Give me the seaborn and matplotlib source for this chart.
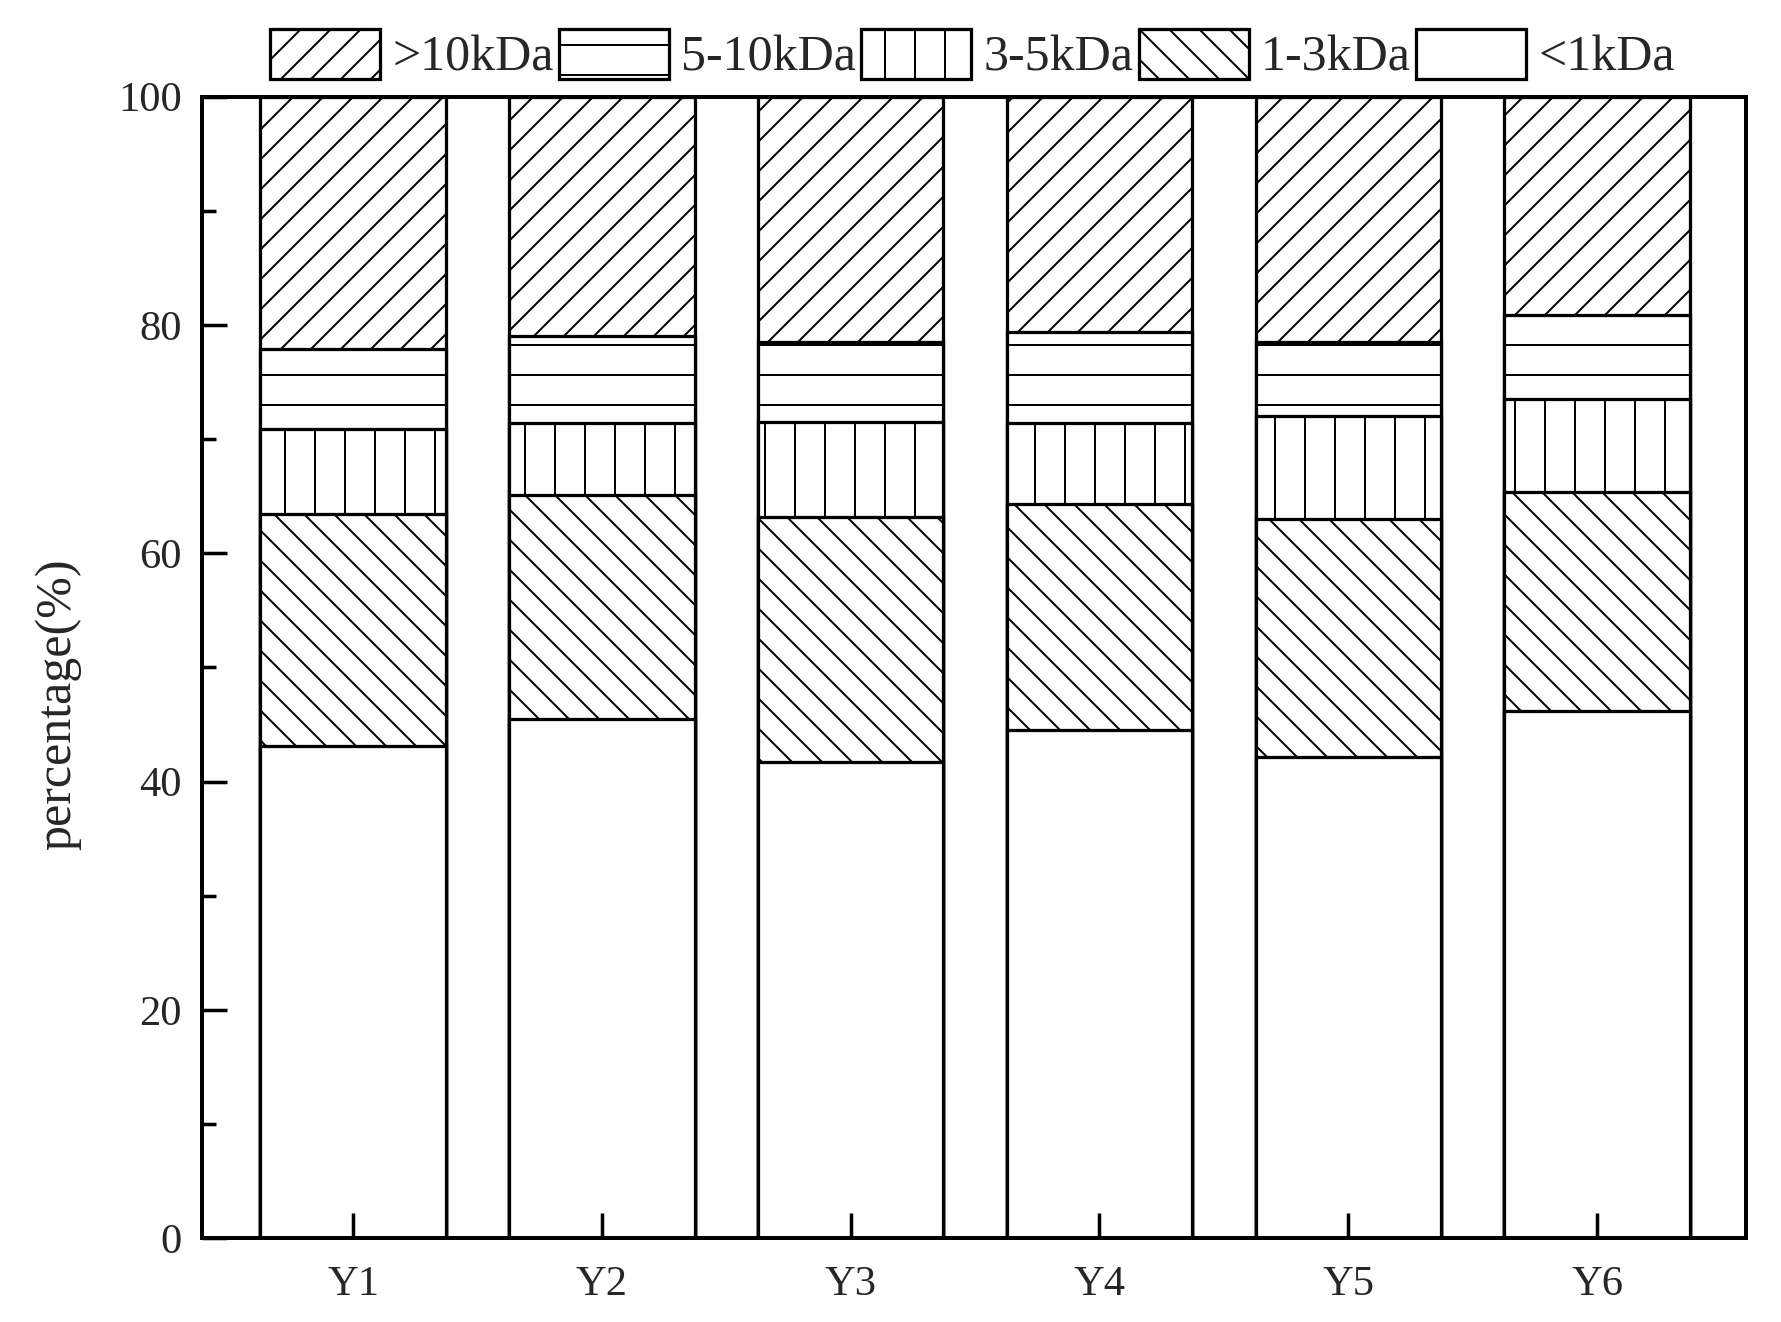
import pandas as pd
import matplotlib.pyplot as plt
import matplotlib.patches as mpatches
import seaborn as sns

samples = ['Y1', 'Y2', 'Y3', 'Y4', 'Y5', 'Y6']
# stacked from bottom to top (percent)
lt_1k = [43.1, 45.5, 41.7, 44.5, 42.2, 46.2]
k1_3 = [20.3, 19.6, 21.5, 19.8, 20.8, 19.2]
k3_5 = [7.5, 6.3, 8.3, 7.1, 9.0, 8.1]
k5_10 = [7.0, 7.6, 7.0, 8.0, 6.5, 7.4]
gt_10k = [22.1, 21.0, 21.5, 20.6, 21.5, 19.1]

labels = ['<1kDa', '1-3kDa', '3-5kDa', '5-10kDa', '>10kDa']
hatches = ['', '\\\\', '|', '-', '//']

sns.set_style('white')
plt.rcParams['font.family'] = ['Liberation Serif', 'DejaVu Serif']
plt.rcParams['hatch.linewidth'] = 0.8
plt.rcParams['hatch.color'] = 'black'

df = pd.DataFrame({'sample': samples, '<1kDa': lt_1k, '1-3kDa': k1_3,
                   '3-5kDa': k3_5, '5-10kDa': k5_10, '>10kDa': gt_10k})
cum = df[labels].cumsum(axis=1)

dpi = 180
fig = plt.figure(figsize=(1781 / dpi, 1322 / dpi), dpi=dpi)
ax = fig.add_axes([0.1134, 0.0633, 0.9803 - 0.1134, 0.9269 - 0.0633])

# draw the tallest cumulative layer first, lower layers cover it
for lab, h in reversed(list(zip(labels, hatches))):
    sns.barplot(x=df['sample'], y=cum[lab], color='white', saturation=1,
                edgecolor='black', linewidth=1.3, width=0.745, hatch=h,
                errorbar=None, ax=ax)

ax.set_axisbelow(False)
ax.set_xlim(-0.607, 5.598)
ax.set_ylim(0, 100)
ax.set_yticks(range(0, 101, 20))
ax.set_yticks(range(10, 100, 20), minor=True)
ax.set_xlabel('')
ax.set_ylabel('percentage(%)', fontsize=20)
ax.yaxis.set_label_coords(-0.078, 0.468)

for s in ax.spines.values():
    s.set_linewidth(1.6)
    s.set_color('black')
    s.set_visible(True)

ax.tick_params(axis='both', which='major', direction='in', length=10,
               width=1.4, labelsize=17, color='black')
ax.tick_params(axis='y', which='minor', direction='in', length=5.5, width=1.4,
               left=True, color='black')
ax.tick_params(axis='y', which='major', pad=8, left=True)
ax.tick_params(axis='x', which='major', pad=11, bottom=True)

handles = [mpatches.Patch(facecolor='white', edgecolor='black', linewidth=1.3,
                          hatch=h, label=lab)
           for lab, h in reversed(list(zip(labels, hatches)))]
fig.legend(handles=handles, loc='center', bbox_to_anchor=(0.546, 0.958),
           ncol=5, frameon=False, fontsize=20, handlelength=2.2,
           handleheight=1.14, handletextpad=0.25, columnspacing=0.1,
           borderpad=0)

fig.savefig('out.png', dpi=dpi)
